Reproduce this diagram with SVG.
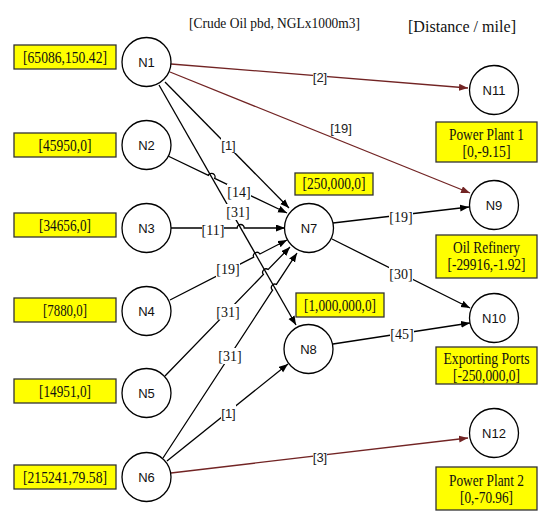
<svg xmlns="http://www.w3.org/2000/svg" width="550" height="522" viewBox="0 0 550 522">
<style>
.node circle{fill:#fff;stroke:#000;stroke-width:1.3}
.nl{font-family:"Liberation Sans",Arial,sans-serif;font-size:13px;fill:#111;text-anchor:middle}
.box{fill:#ffff00;stroke:#333;stroke-width:1.3}
.bt{font-family:"Liberation Serif","Times New Roman",serif;font-size:16px;fill:#111;text-anchor:middle}
.e{fill:none;stroke:#000;stroke-width:1.3}
.b{fill:none;stroke:#722424;stroke-width:1.3}
.lb{fill:#fff}
.lt{font-family:"Liberation Serif","Times New Roman",serif;font-size:14px;fill:#111;text-anchor:middle}
.ls{font-family:"Liberation Sans",Arial,sans-serif;font-size:13px;fill:#222;text-anchor:middle}
.title{font-family:"Liberation Serif","Times New Roman",serif;fill:#111}
</style>
<defs>
<marker id="ak" markerUnits="userSpaceOnUse" markerWidth="10" markerHeight="8" refX="9" refY="3.5" orient="auto"><path d="M0,0 L9,3.5 L0,7 z" fill="#000"/></marker>
<marker id="ab" markerUnits="userSpaceOnUse" markerWidth="10" markerHeight="8" refX="9" refY="3.5" orient="auto"><path d="M0,0 L9,3.5 L0,7 z" fill="#722424"/></marker>
</defs>
<rect width="550" height="522" fill="#fff"/>
<text class="title" x="189" y="28" font-size="15" textLength="171" lengthAdjust="spacingAndGlyphs">[Crude Oil pbd, NGLx1000m3]</text>
<text class="title" x="408" y="32" font-size="17" textLength="108" lengthAdjust="spacingAndGlyphs">[Distance / mile]</text>

<g id="connectors">
<path class="e" marker-end="url(#ak)" d="M165,82 L289,208"/>
<path class="e" marker-end="url(#ak)" d="M159,85 L296,325"/>
<path class="e" marker-end="url(#ak)" d="M168,156 L208.3,175.4 A3.5,3.5 0 0 1 214.7,178.4 L287,213"/>
<path class="e" marker-end="url(#ak)" d="M171,228 L237.2,228 A3.5,3.5 0 0 1 244.2,228 L285,228"/>
<path class="e" marker-end="url(#ak)" d="M170,300 L253.7,257.2 A3.5,3.5 0 0 1 259.9,254 L287,240"/>
<path class="e" marker-end="url(#ak)" d="M165,376 L263.4,274.5 A3.5,3.5 0 0 1 268.2,269.5 L290,247"/>
<path class="e" marker-end="url(#ak)" d="M163,458 L272.6,290.2 A3.5,3.5 0 0 1 276.4,284.4 L297,253"/>
<path class="e" marker-end="url(#ak)" d="M167,461 L288,364"/>
<path class="e" marker-end="url(#ak)" d="M333,223 L469,207"/>
<path class="e" marker-end="url(#ak)" d="M332,239 L470,308"/>
<path class="e" marker-end="url(#ak)" d="M333,344 L470,323"/>
<path class="b" marker-end="url(#ab)" d="M171,64 L468,88"/>
<path class="b" marker-end="url(#ab)" d="M170,72 L470,193"/>
<path class="b" marker-end="url(#ab)" d="M171,473 L468,438"/>

<rect class="lb" x="221" y="137" width="15" height="16"/><text class="ls" x="228.5" y="150">[1]</text>
<rect class="lb" x="227" y="184" width="24" height="16"/><text class="lt" x="239" y="197">[14]</text>
<rect class="lb" x="226" y="204" width="24" height="16"/><text class="lt" x="238" y="217">[31]</text>
<rect class="lb" x="202" y="222" width="22" height="16"/><text class="lt" x="213" y="235">[11]</text>
<rect class="lb" x="216" y="261" width="24" height="16"/><text class="lt" x="228" y="274">[19]</text>
<rect class="lb" x="216" y="304" width="24" height="16"/><text class="lt" x="228" y="317">[31]</text>
<rect class="lb" x="218" y="348" width="24" height="16"/><text class="lt" x="230" y="361">[31]</text>
<rect class="lb" x="221" y="405" width="15" height="16"/><text class="ls" x="228.5" y="418">[1]</text>
<rect class="lb" x="389" y="209" width="24" height="16"/><text class="lt" x="401" y="222">[19]</text>
<rect class="lb" x="389" y="266" width="24" height="16"/><text class="lt" x="401" y="279">[30]</text>
<rect class="lb" x="390" y="326" width="24" height="16"/><text class="lt" x="402" y="339">[45]</text>
<rect class="lb" x="313" y="69" width="14" height="16"/><text class="ls" x="320" y="82">[2]</text>
<text class="ls" x="341" y="133">[19]</text>
<rect class="lb" x="313" y="449" width="14" height="16"/><text class="ls" x="320" y="462">[3]</text>
</g>

<g id="N1" class="node"><circle cx="146.5" cy="62" r="24.5"/><text class="nl" x="146.5" y="66.5">N1</text></g>
<g id="N2" class="node"><circle cx="146.5" cy="145" r="24.5"/><text class="nl" x="146.5" y="149.5">N2</text></g>
<g id="N3" class="node"><circle cx="146.5" cy="228" r="24.5"/><text class="nl" x="146.5" y="232.5">N3</text></g>
<g id="N4" class="node"><circle cx="146.5" cy="311" r="24.5"/><text class="nl" x="146.5" y="315.5">N4</text></g>
<g id="N5" class="node"><circle cx="146.5" cy="393" r="24.5"/><text class="nl" x="146.5" y="397.5">N5</text></g>
<g id="N6" class="node"><circle cx="146.5" cy="477" r="24.5"/><text class="nl" x="146.5" y="481.5">N6</text></g>
<g id="N7" class="node"><circle cx="309" cy="228" r="24.5"/><text class="nl" x="309" y="232.5">N7</text></g>
<g id="N8" class="node"><circle cx="308.5" cy="349" r="24.5"/><text class="nl" x="308.5" y="353.5">N8</text></g>
<g id="N9" class="node"><circle cx="494" cy="205" r="24.5"/><text class="nl" x="494" y="209.5">N9</text></g>
<g id="N10" class="node"><circle cx="494" cy="318" r="24.5"/><text class="nl" x="494" y="322.5">N10</text></g>
<g id="N11" class="node"><circle cx="494" cy="90" r="24.5"/><text class="nl" x="494" y="94.5">N11</text></g>
<g id="N12" class="node"><circle cx="494" cy="433" r="24.5"/><text class="nl" x="494" y="437.5">N12</text></g>

<g id="box-N1"><rect class="box" x="14" y="45" width="102" height="24"/><text class="bt" x="65" y="63" textLength="84" lengthAdjust="spacingAndGlyphs">[65086,150.42]</text></g>
<g id="box-N2"><rect class="box" x="14" y="133" width="102" height="24"/><text class="bt" x="65" y="151" textLength="53" lengthAdjust="spacingAndGlyphs">[45950,0]</text></g>
<g id="box-N3"><rect class="box" x="14" y="213" width="102" height="24"/><text class="bt" x="65" y="231" textLength="52" lengthAdjust="spacingAndGlyphs">[34656,0]</text></g>
<g id="box-N4"><rect class="box" x="14" y="298" width="102" height="24"/><text class="bt" x="65" y="316" textLength="44" lengthAdjust="spacingAndGlyphs">[7880,0]</text></g>
<g id="box-N5"><rect class="box" x="14" y="379" width="102" height="24"/><text class="bt" x="65" y="397" textLength="52" lengthAdjust="spacingAndGlyphs">[14951,0]</text></g>
<g id="box-N6"><rect class="box" x="14" y="465" width="102" height="24"/><text class="bt" x="65" y="483" textLength="84" lengthAdjust="spacingAndGlyphs">[215241,79.58]</text></g>
<g id="box-N7"><rect class="box" x="295" y="173" width="78" height="22"/><text class="bt" x="334" y="189" textLength="63" lengthAdjust="spacingAndGlyphs">[250,000,0]</text></g>
<g id="box-N8"><rect class="box" x="296" y="293" width="88" height="24"/><text class="bt" x="340" y="311" textLength="72" lengthAdjust="spacingAndGlyphs">[1,000,000,0]</text></g>
<g id="box-N11"><rect class="box" x="436" y="122" width="101" height="40"/><text class="bt" x="486.5" y="140" textLength="75" lengthAdjust="spacingAndGlyphs">Power Plant 1</text><text class="bt" x="486.5" y="157" textLength="48" lengthAdjust="spacingAndGlyphs">[0,-9.15]</text></g>
<g id="box-N9"><rect class="box" x="436" y="235" width="101" height="43"/><text class="bt" x="486.5" y="253" textLength="67" lengthAdjust="spacingAndGlyphs">Oil Refinery</text><text class="bt" x="486.5" y="270" textLength="78" lengthAdjust="spacingAndGlyphs">[-29916,-1.92]</text></g>
<g id="box-N10"><rect class="box" x="436" y="347" width="101" height="37"/><text class="bt" x="486.5" y="364" textLength="86" lengthAdjust="spacingAndGlyphs">Exporting Ports</text><text class="bt" x="486.5" y="381" textLength="67" lengthAdjust="spacingAndGlyphs">[-250,000,0]</text></g>
<g id="box-N12"><rect class="box" x="436" y="467" width="101" height="43"/><text class="bt" x="486.5" y="486" textLength="75" lengthAdjust="spacingAndGlyphs">Power Plant 2</text><text class="bt" x="486.5" y="503" textLength="53" lengthAdjust="spacingAndGlyphs">[0,-70.96]</text></g>
</svg>
